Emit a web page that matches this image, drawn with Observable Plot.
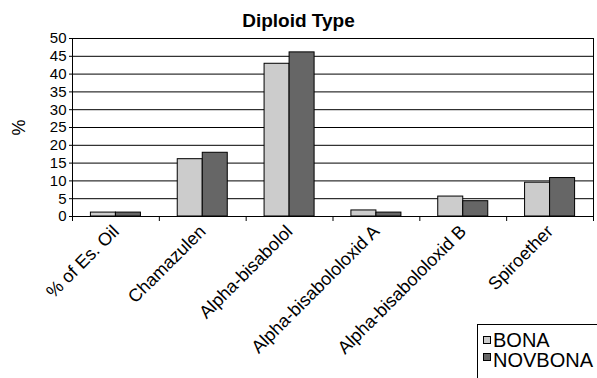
<!DOCTYPE html>
<html>
<head>
<meta charset="utf-8">
<script src="https://cdn.jsdelivr.net/npm/d3@7"></script>
<script src="https://cdn.jsdelivr.net/npm/@observablehq/plot@0.6"></script>
<style>
  body { margin: 0; background: #fff; }
  #chart { position: relative; width: 597px; height: 378px; overflow: hidden;
           font-family: "Liberation Sans", Arial, sans-serif; color: #000; }
  #chart svg { position: absolute; left: 0; top: 0; }
  #title { position: absolute; left: 0; top: 11px; width: 597px; text-align: center;
           font-weight: bold; font-size: 19px; line-height: 19px; }
  #legend { position: absolute; left: 477px; top: 324px; width: 200px; height: 100px;
            box-sizing: border-box; border: 1px solid #000; background: #fff; }
  #legend .sw { position: absolute; left: 5px; width: 8px; height: 8px;
                box-sizing: border-box; border: 1px solid #000; }
  #legend .lb { position: absolute; left: 15px; font-size: 20px; line-height: 20px; white-space: nowrap; }
</style>
</head>
<body>
<div id="chart">
  <div id="title">Diploid Type</div>
</div>
<script>
// Essential-oil composition of the two diploid chamomile cultivars (%)
const categories = ["% of Es. Oil", "Chamazulen", "Alpha-bisabolol",
                    "Alpha-bisabololoxid A", "Alpha-bisabololoxid B", "Spiroether"];
const series = ["BONA", "NOVBONA"];
const bona    = [1.1, 16.1, 42.9, 1.7, 5.6, 9.5];
const novbona = [1.1, 17.9, 46.1, 1.1, 4.3, 10.8];
const yTicks = [0, 5, 10, 15, 20, 25, 30, 35, 40, 45, 50];
const colors = ["#cccccc", "#666666"];

// each bar takes this share of a category slot; the pair sits centred on it
const barWidth = 0.288;

const values = [bona, novbona];
const rows = categories.flatMap((cat, i) =>
  series.map((s, k) => ({
    cat, series: s, value: values[k][i],
    x1: i - barWidth + k * barWidth,
    x2: i + k * barWidth
  }))
);

const centers = categories.map((_, i) => i);
const bounds = [-0.5, ...categories.map((_, i) => i + 0.5)];

const chart = Plot.plot({
  width: 597,
  height: 378,
  marginLeft: 72,
  marginRight: 4,
  marginTop: 38,
  marginBottom: 162,
  style: { fontFamily: "'Liberation Sans', Arial, sans-serif", background: "transparent", color: "#000" },
  x: { type: "linear", domain: [-0.5, categories.length - 0.5] },
  y: { domain: [0, 50] },
  color: { domain: series, range: colors },
  marks: [
    Plot.gridY(yTicks, { stroke: "#000", strokeOpacity: 1, strokeWidth: 1 }),
    Plot.rectY(rows, { x1: "x1", x2: "x2", y: "value", fill: "series", stroke: "#000", strokeWidth: 1 }),
    Plot.frame({ stroke: "#000", strokeWidth: 1 }),
    Plot.axisY(yTicks, {
      tickSize: 3, tickPadding: 3, fontSize: 15,
      label: null
    }),
    Plot.axisY({
      ticks: [], tickSize: 0, fontSize: 18,
      label: "%", labelAnchor: "center", labelArrow: "none", labelOffset: 60
    }),
    Plot.axisX(bounds, { tickSize: 5, tickFormat: () => "", label: null }),
    Plot.axisX(centers, {
      tickSize: 0, tickPadding: 12, tickRotate: -45, fontSize: 18,
      tickFormat: (i) => categories[i], label: null
    })
  ]
});
document.getElementById("chart").prepend(chart);

// legend box, bottom right
const legend = document.createElement("div");
legend.id = "legend";
series.forEach((s, k) => {
  const sw = document.createElement("div");
  sw.className = "sw";
  sw.style.top = (11 + 17 * k) + "px";
  sw.style.background = colors[k];
  const lb = document.createElement("div");
  lb.className = "lb";
  lb.style.top = (5 + 20 * k) + "px";
  lb.textContent = s;
  legend.append(sw, lb);
});
document.getElementById("chart").append(legend);
</script>
</body>
</html>
